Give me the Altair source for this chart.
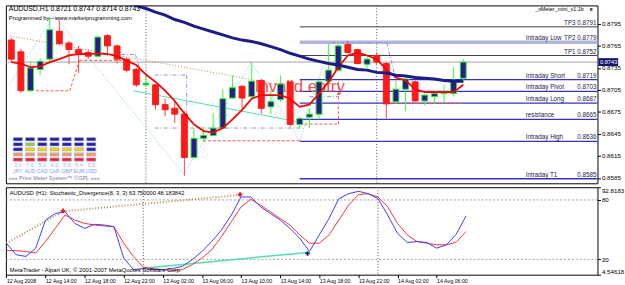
import altair as alt
import pandas as pd

FONT = "Liberation Sans"
W, H1, H2 = 602, 181, 89

# ---------------- data ----------------
bars = list(range(48))  # H1 bars, 0 = 12 Aug 2008 10:00
opens = [.8773, .8757, .8704, .8733, .8747, .8785, .8769, .8760, .8756, .8751,
         .8779, .8765, .8747, .8733, .8712, .8712, .8685, .8680, .8672, .8613,
         .8639, .8643, .8653, .8694, .8710, .8696, .8718, .8682, .8692, .8716,
         .8658, .8668, .8672, .8717, .8732, .8767, .8760, .8740, .8752, .8741,
         .8689, .8706, .8716, .8690, .8696, .8700, .8700, .8721]
highs = [.8776, .8761, .8744, .8748, .8804, .8800, .8772, .8765, .8760, .8779,
         .8781, .8767, .8749, .8735, .8726, .8713, .8693, .8689, .8676, .8653,
         .8655, .8673, .8706, .8725, .8712, .8741, .8720, .8705, .8725, .8717,
         .8669, .8680, .8718, .8768, .8769, .8772, .8761, .8751, .8756, .8743,
         .8718, .8722, .8718, .8700, .8702, .8712, .8736, .8747]
lows = [.8743, .8701, .8702, .8725, .8740, .8766, .8740, .8728, .8747, .8749,
        .8752, .8741, .8729, .8709, .8709, .8678, .8669, .8660, .8588, .8611,
        .8635, .8642, .8653, .8693, .8676, .8694, .8673, .8672, .8689, .8655,
        .8653, .8653, .8665, .8716, .8729, .8756, .8740, .8735, .8740, .8666,
        .8686, .8676, .8689, .8684, .8686, .8688, .8696, .8714]
closes = [.8747, .8704, .8735, .8744, .8787, .8768, .8760, .8755, .8751, .8777,
          .8765, .8747, .8732, .8712, .8714, .8685, .8678, .8672, .8613, .8639,
          .8643, .8653, .8693, .8708, .8694, .8717, .8680, .8689, .8713, .8658,
          .8666, .8672, .8716, .8732, .8765, .8756, .8741, .8747, .8743, .8686,
          .8706, .8720, .8690, .8698, .8700, .8701, .8718, .8743]
ma_fast = [.8743, .8741, .8736, .8737, .8743, .8747, .8752, .8754, .8754, .8755,
           .8754, .8751, .8745, .8739, .8726, .8716, .8704, .8690, .8673, .8658,
           .8649, .8647, .8653, .8665, .8678, .8693, .8698, .8698, .8698, .8693,
           .8682, .8685, .8700, .8716, .8736, .8752, .8756, .8752, .8747, .8733,
           .8722, .8718, .8706, .8702, .8702, .8702, .8702, .8712]
ma_slow = [None] * 12 + [
           .8824, .8820, .8816, .8811, .8807, .8801, .8797, .8792, .8788, .8784,
           .8780, .8776, .8773, .8771, .8768, .8764, .8760, .8755, .8751, .8747,
           .8744, .8741, .8739, .8736, .8733, .8732, .8729, .8728, .8725, .8724,
           .8722, .8721, .8720, .8718, .8717, .8717]
stoch_k = [36.3, 24.7, 23.0, 31.3, 59.7, 66.3, 68.0, 56.3, 51.3, 55.3,
           54.7, 53.0, 21.3, 9.7, 10.7, 9.7, 9.7, 10.7, 13.0, 19.7,
           28.0, 38.0, 49.7, 64.7, 83.0, 83.0, 73.0, 66.3, 59.7, 51.3,
           41.3, 28.0, 44.7, 61.3, 81.3, 86.3, 88.7, 86.3, 81.3, 64.7,
           46.3, 37.0, 38.0, 37.0, 31.3, 34.7, 45.3, 63.75]
stoch_d = [29.0, 28.7, 28.0, 26.3, 38.0, 51.3, 64.7, 59.7, 56.3, 54.7,
           53.7, 53.0, 36.3, 23.0, 12.0, 10.7, 9.7, 8.7, 9.7, 14.7,
           21.3, 29.7, 43.0, 58.0, 73.0, 80.7, 74.7, 68.0, 61.3, 54.7,
           44.7, 36.3, 36.3, 44.7, 59.7, 74.7, 85.3, 86.3, 83.0, 73.0,
           56.3, 44.7, 38.0, 36.3, 34.7, 34.7, 37.3, 48.18]

time_ticks = [0, 4, 8, 12, 16, 20, 24, 28, 32, 36, 40, 44]
time_labels = ["12 Aug 2008", "12 Aug 14:00", "12 Aug 18:00", "12 Aug 22:00",
               "13 Aug 02:00", "13 Aug 06:00", "13 Aug 10:00", "13 Aug 14:00",
               "13 Aug 18:00", "13 Aug 22:00", "14 Aug 02:00", "14 Aug 06:00"]
day_separators = [14, 38]
price_ticks = [0.8585, 0.8615, 0.8645, 0.8675, 0.8705, 0.8735, 0.8765, 0.8795]
bid_price = [0.8743]
bid_label = ["0.8743"]

level_prices = [0.8791, 0.8770, 0.8752, 0.8719, 0.8703, 0.8687, 0.8665, 0.8635, 0.8584]
level_names = ["", "Intraday Low", "", "Intraday Short", "Intraday Pivot",
               "Intraday Long", "resistance", "Intraday High", "Intraday   T1"]
level_values = ["TP3 0.8791", "TP2 0.8779", "TP1 0.8752", "0.8719", "0.8703",
                "0.8687", "0.8665", "0.8636", "0.8585"]
level_kinds = ["tp", "band", "tp", "pivot", "pivot", "pivot", "pivot", "pivot", "pivot"]
level_start = [30] * 9

# decorative objects (bar index, price)
zigzag_n = [-0.15, 4.47, 17.94, 24.97, 30.0, 33.22]
zigzag_p = [0.87132, 0.88068, 0.85903, 0.87426, 0.86358, 0.87720]
trend_n = [-0.15, 21.96, 28.49]
trend_p = [0.87787, 0.87266, 0.87106]
mint_n = [12.71, 30.0]
mint_p = [0.87039, 0.86612]
red_box_n1 = [2.56, 6.08, 7.09, 19.95, 30.0, 34.02, 39.35]
red_box_n2 = [6.08, 7.09, 11.91, 30.0, 34.02, 34.02, 46.78]
red_box_p1 = [0.87039, 0.87039, 0.87453, 0.86358, 0.86585, 0.86585, 0.86865]
red_box_p2 = [0.87039, 0.87453, 0.87453, 0.86358, 0.86585, 0.87186, 0.86865]
blue_box_n1 = [9.6, 12.91, 14.92, 18.24, 14.92, 33.32, 31.0, 39.05]
blue_box_n2 = [12.91, 13.42, 30.0, 18.24, 18.24, 39.05, 34.02, 39.85]
blue_box_p1 = [0.87533, 0.87533, 0.86531, 0.87253, 0.87253, 0.87693, 0.86959, 0.87693]
blue_box_p2 = [0.87533, 0.87319, 0.86531, 0.86531, 0.87253, 0.87693, 0.86959, 0.87266]
note_n = [30.0]
note_p = [0.87085]
note_text = ["Invalid entry"]

# stochastic divergence objects
div_top_n = [0, 5.8, 23.9]
div_top_v = [36.3, 68.5, 85.0]
div_bot_n = [14, 30.8]
div_bot_v = [11.0, 27.0]
arrow_n = [5.8, 23.9, 30.8]
arrow_v = [69.0, 85.5, 26.0]
arrow_kind = ["top", "top", "bottom"]

# price meter
meter_cur = ["JPY", "AUD", "CAD", "CHF", "GBP", "EUR", "USD"]
meter_val = ["3.0", "7.0", "5.0", "4.0", "5.0", "5.4", "3.5"]
meter_grid = [
    ["n", "n", "n", "n", "n", "n", "n"],
    ["n", "g", "n", "n", "n", "n", "n"],
    ["n", "y", "y", "y", "y", "y", "n"],
    ["o", "o", "o", "o", "o", "o", "o"],
    ["r", "r", "r", "r", "r", "r", "r"],
]

title_text = "AUDUSD,H1  0.8721 0.8747 0.8714 0.8743"
credit_text = "Programmed by---www.marketprogramming.com"
meter_name = "_xMeter_mini_v1.1b"
sub_title = "AUDUSD (H1):  Stochastic_Divergence(8, 3, 3) 63.750000 48.183842"
copyright_text = "MetaTrader - Alpari UK, \u00a9 2001-2007 MetaQuotes Software Corp."
meter_footer = "\u00bb\u00bb\u00bb Price Meter System\u2122 \u00a9GPL \u00ab\u00ab\u00ab"

# ---------------- styles ----------------
BULL_BODY, BULL_EDGE, BEAR = "#2b1c8c", "#22ee22", "#ff1a1a"
kind_color = {"tp": "#3c3c3c", "band": "#b4b4dc", "pivot": "#3434c4"}
kind_width = {"tp": 1.0, "band": 3.5, "pivot": 1.3}
cell_color = {"n": "#2c1f8f", "g": "#9ccc2c", "y": "#f5d000", "o": "#f0a050", "r": "#ff2020"}

candles = pd.DataFrame({"n": bars, "o": opens, "h": highs, "l": lows, "c": closes})
candles["bl"] = candles[["o", "c"]].min(axis=1)
candles["bh"] = candles[["o", "c"]].max(axis=1)
mas = pd.DataFrame({"n": bars, "fast": ma_fast, "slow": ma_slow})
stoch = pd.DataFrame({"n": bars, "k": stoch_k, "d": stoch_d})
levels = pd.DataFrame({"p": level_prices, "name": level_names, "val": level_values,
                       "n": level_start,
                       "col": [kind_color[k] for k in level_kinds],
                       "w": [kind_width[k] for k in level_kinds]})
seps = pd.DataFrame({"n": day_separators})

xs = alt.Scale(domain=[-0.05, 60.45], nice=False, zero=False)
ys = alt.Scale(domain=[0.85778, 0.88202], nice=False, zero=False)
ys2 = alt.Scale(domain=[4.54618, 92.8183], nice=False, zero=False)

yaxis = alt.Axis(orient="right", values=price_ticks, format=".4f", labelFontSize=6.3,
                 labelFont=FONT, labelColor="#000", tickColor="#000", tickSize=3,
                 labelPadding=1, domain=False, grid=False, title=None, labelOverlap=False)
yaxis2 = alt.Axis(orient="right", values=[4.54618, 20, 80, 92.8183],
                  labelExpr="datum.value > 90 ? '92.8183' : datum.value > 50 ? '80' : datum.value > 10 ? '20' : '4.54618'",
                  labelFontSize=6.3, labelFont=FONT, labelColor="#000", tickColor="#000",
                  tickSize=3, labelPadding=1, domain=False, grid=False, title=None,
                  labelFlush=True, labelOverlap=False)
lab_js = "[" + ",".join("'%s'" % t for t in time_labels) + "]"
xaxis2 = alt.Axis(orient="bottom", values=time_ticks, labelExpr=lab_js + "[round(datum.value/4)]",
                  labelAlign="left", labelFontSize=5.3, labelFont=FONT, labelColor="#000",
                  tickColor="#000", tickSize=3, labelPadding=1, domain=False, grid=False,
                  title=None, labelFlush=False, labelOverlap=False, labelBound=False)


def X(f):
    return alt.X(f, type="quantitative", scale=xs, axis=None)


def Y(f):
    return alt.Y(f, type="quantitative", scale=ys, axis=yaxis)


def X2s(f):
    return alt.X(f, type="quantitative", scale=xs, axis=xaxis2)


def Y2s(f):
    return alt.Y(f, type="quantitative", scale=ys2, axis=yaxis2)


def txt(s, x, y, align="left", size=7, color="#000", weight="normal"):
    return alt.Chart(pd.DataFrame({"t": [s]})).mark_text(
        align=align, baseline="middle", font=FONT, fontSize=size, color=color,
        fontWeight=weight).encode(x=alt.value(x), y=alt.value(y), text="t:N")


bull = "datum.c >= datum.o"

# ---------------- main panel ----------------
core = [
    alt.Chart(seps).mark_rule(color="#555", strokeDash=[1, 2]).encode(x=X("n")),
    alt.Chart(pd.DataFrame({"p": bid_price})).mark_rule(color="#a0a0a0").encode(y=Y("p")),
    alt.Chart(levels).mark_rule().encode(
        x=X("n"), x2=alt.value(W), y=Y("p"),
        color=alt.Color("col:N", scale=None), strokeWidth=alt.StrokeWidth("w:Q", scale=None)),
    alt.Chart(pd.DataFrame({"n": zigzag_n, "p": zigzag_p})).mark_line(
        color="#6cc8f0", strokeDash=[1, 2], strokeWidth=1, clip=True).encode(x=X("n"), y=Y("p")),
    alt.Chart(pd.DataFrame({"n": trend_n, "p": trend_p})).mark_line(
        color="#c08850", strokeDash=[1, 2], strokeWidth=1, clip=True).encode(x=X("n"), y=Y("p")),
    alt.Chart(pd.DataFrame({"n": mint_n, "p": mint_p})).mark_line(
        color="#50e0a8", strokeWidth=1).encode(x=X("n"), y=Y("p")),
    alt.Chart(pd.DataFrame({"n": red_box_n1, "n2": red_box_n2, "p": red_box_p1, "p2": red_box_p2})).mark_rule(
        color="#ff5050", strokeDash=[3, 2], strokeWidth=1).encode(x=X("n"), x2="n2:Q", y=Y("p"), y2="p2:Q"),
    alt.Chart(pd.DataFrame({"n": blue_box_n1, "n2": blue_box_n2, "p": blue_box_p1, "p2": blue_box_p2})).mark_rule(
        color="#8898d8", strokeDash=[4, 2, 1, 2], strokeWidth=1).encode(x=X("n"), x2="n2:Q", y=Y("p"), y2="p2:Q"),
    alt.Chart(pd.DataFrame({"n": note_n, "p": note_p, "t": note_text})).mark_text(
        font=FONT, fontSize=17, color="#f03c3c", opacity=0.9, align="center",
        baseline="middle").encode(x=X("n"), y=Y("p"), text="t:N"),
    alt.Chart(candles).mark_rule(strokeWidth=1).encode(
        x=X("n"), y=Y("l"), y2="h:Q",
        color=alt.condition(bull, alt.value("#33ff33"), alt.value("#ff4040"))),
    alt.Chart(candles).mark_bar(size=6, strokeWidth=1).encode(
        x=X("n"), y=Y("bl"), y2="bh:Q",
        fill=alt.condition(bull, alt.value(BULL_BODY), alt.value(BEAR)),
        stroke=alt.condition(bull, alt.value(BULL_EDGE), alt.value(BEAR))),
    alt.Chart(mas).mark_line(color="#ff0000", strokeWidth=1.8).encode(x=X("n"), y=Y("fast")),
    alt.Chart(mas).mark_line(color="#1c1c88", strokeWidth=3, clip=True).encode(x=X("n"), y=Y("slow")),
    alt.Chart(levels).mark_text(align="left", baseline="bottom", dy=-1, font=FONT, fontSize=6.4,
                                color="#1a1a50").encode(x=alt.value(529), y=Y("p"), text="name:N"),
    alt.Chart(levels).mark_text(align="right", baseline="bottom", dy=-1, font=FONT, fontSize=6.4,
                                color="#1a1a50").encode(x=alt.value(W - 1), y=Y("p"), text="val:N"),
    alt.Chart(pd.DataFrame({"p": bid_price})).mark_point(
        shape="M-1,-0.4H1V0.4H-1Z", size=400, filled=True, opacity=1, color="#14146e").encode(
        x=alt.value(W + 11), y=Y("p")),
    alt.Chart(pd.DataFrame({"p": bid_price, "t": bid_label})).mark_text(
        align="left", baseline="middle", font=FONT, fontSize=5.8, color="#fff").encode(
        x=alt.value(W + 2.5), y=Y("p"), text="t:N"),
    txt(title_text, 3, 4),
    txt(credit_text, 3, 12.5, size=5.8),
    txt(meter_name, 588, 4, align="right", size=5.5),
    txt("x", 594, 4, size=6, weight="bold"),
]

cells = pd.DataFrame([{"row": r, "cur": meter_cur[c], "col": cell_color[meter_grid[r][c]]}
                      for r in range(5) for c in range(7)])
mx = alt.Scale(domain=meter_cur, range=[7.5, 91.5], paddingInner=0.25, paddingOuter=0)
my = alt.Scale(domain=[0, 1, 2, 3, 4], range=[134.5, 158.5], paddingInner=0.35, paddingOuter=0)
mlabels = pd.DataFrame({"cur": meter_cur, "v": meter_val})
meter = [
    alt.Chart(cells).mark_rect(stroke="#9ab0ff", strokeWidth=0.6).encode(
        x=alt.X("cur:N", scale=mx, axis=None), y=alt.Y("row:O", scale=my, axis=None),
        fill=alt.Fill("col:N", scale=None)),
    alt.Chart(mlabels).mark_text(font=FONT, fontSize=5.5, color="#a8b4d0", baseline="middle").encode(
        x=alt.X("cur:N", scale=mx, axis=None), y=alt.value(162), text="v:N"),
    alt.Chart(mlabels).mark_text(font=FONT, fontSize=5.3, color="#7896ff", baseline="middle").encode(
        x=alt.X("cur:N", scale=mx, axis=None), y=alt.value(169), text="cur:N"),
    txt(meter_footer, 49, 176, align="center", size=5.6, color="#7a7a9a"),
]

main = alt.layer(alt.layer(*core), alt.layer(*meter)).resolve_scale(
    x="independent", y="independent").properties(width=W, height=H1)

# ---------------- stochastic panel ----------------
sub_layers = [
    alt.Chart(seps).mark_rule(color="#555", strokeDash=[1, 2]).encode(x=X2s("n")),
    alt.Chart(pd.DataFrame({"v": [20, 80]})).mark_rule(color="#a0a0a0", strokeDash=[2, 2]).encode(y=Y2s("v")),
    alt.Chart(pd.DataFrame({"n": div_top_n, "v": div_top_v})).mark_line(
        color="#c08850", strokeDash=[1, 2]).encode(x=X2s("n"), y=Y2s("v")),
    alt.Chart(pd.DataFrame({"n": div_bot_n, "v": div_bot_v})).mark_line(
        color="#50e0a8", strokeWidth=1.5).encode(x=X2s("n"), y=Y2s("v")),
    alt.Chart(stoch).mark_line(color="#ff3030", strokeWidth=1).encode(x=X2s("n"), y=Y2s("d")),
    alt.Chart(stoch).mark_line(color="#3c3cff", strokeWidth=1).encode(x=X2s("n"), y=Y2s("k")),
    alt.Chart(pd.DataFrame({"n": arrow_n, "v": arrow_v, "k": arrow_kind})).mark_point(
        shape="cross", size=22, filled=True, opacity=1).encode(
        x=X2s("n"), y=Y2s("v"),
        color=alt.condition("datum.k == 'top'", alt.value("#e02020"), alt.value("#1a1a80"))),
    txt(sub_title, 4, 6, size=5.8),
    txt(copyright_text, 4, 84, size=6),
]
sub = alt.layer(*sub_layers).properties(width=W, height=H2)

chart = alt.vconcat(main, sub, spacing=2).properties(
    padding={"left": 1, "top": 2, "right": 0, "bottom": 0},
    background="#ffffff",
).configure_view(stroke="#000", strokeWidth=1).configure_text(font=FONT)

chart.save("out.html", embed_options={"renderer": "svg", "actions": False})
